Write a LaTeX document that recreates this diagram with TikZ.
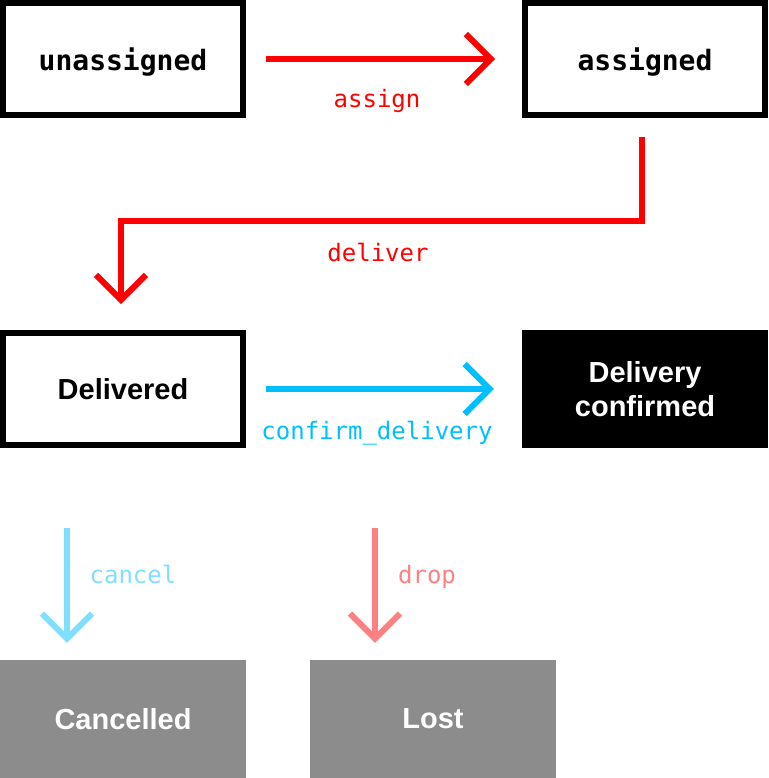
\documentclass[tikz,border=0pt]{standalone}
\usepackage{fontspec}
\usetikzlibrary{arrows.meta,calc}
\newfontfamily\boxsans{Liberation Sans}
\newfontfamily\monofont{DejaVu Sans Mono}
\definecolor{cred}{HTML}{FF0000}
\definecolor{ccyan}{HTML}{00BFFF}
\definecolor{clcyan}{HTML}{80DFFF}
\definecolor{csalmon}{HTML}{FF8080}
\definecolor{cgray}{HTML}{8C8C8C}
\tikzset{
  outlined/.style={draw=black, line width=6pt, fill=white, minimum width=240pt, minimum height=112pt, inner sep=0pt, text depth=0pt, font=\monofont\bfseries\fontsize{28}{34}\selectfont},
  outlinedsans/.style={draw=black, line width=6pt, fill=white, minimum width=240pt, minimum height=112pt, inner sep=0pt, font=\boxsans\bfseries\fontsize{29}{34}\selectfont},
  solidbox/.style={draw=none, minimum width=246pt, minimum height=118pt, inner sep=0pt, text=white, align=center, font=\boxsans\bfseries\fontsize{29}{34}\selectfont},
  trans/.style={line width=6pt, -{Straight Barb[length=25pt,width=50pt]}},
  lbl/.style={anchor=base, inner sep=0pt, font=\monofont\fontsize{24}{28}\selectfont}
}
\begin{document}
\begin{tikzpicture}[x=1pt,y=-1pt]
\useasboundingbox (0,0) rectangle (768,778);
\node[outlined] (unassigned) at (123,59) {unassigned};
\node[outlined] (assigned) at (645,59) {assigned};
\node[outlinedsans] (delivered) at (123,389) {Delivered};
\node[solidbox, fill=black] (confirmed) at (645,389) {Delivery\\confirmed};
\node[solidbox, fill=cgray] (cancelled) at (123,719) {Cancelled};
\node[solidbox, fill=cgray] (lost) at (433,719) {Lost};
% assign
\draw[trans, cred, shorten <=20pt, shorten >=27pt] (unassigned.east) -- (assigned.west);
\node[lbl, text=cred] (lassign) at (377,108) {assign};
% deliver
\coordinate (dstart) at (642,137);
\coordinate (dend) at (121,304);
\draw[trans, cred] (dstart) -- (642,221) -- (121,221) -- (dend);
\node[lbl, text=cred] (ldeliver) at (378,261) {deliver};
% confirm_delivery
\draw[trans, ccyan, shorten <=20pt, shorten >=28pt] (delivered.east) -- (confirmed.west);
\node[lbl, text=ccyan] (lconfirm) at (377,439) {confirm\_delivery};
% cancel
\coordinate (cstart) at (67,528);
\draw[trans, clcyan, shorten >=17pt] (cstart) -- (cstart |- cancelled.north);
\node[lbl, text=clcyan] (lcancel) at (133,583) {cancel};
% drop
\coordinate (pstart) at (375,528);
\draw[trans, csalmon, shorten >=17pt] (pstart) -- (pstart |- lost.north);
\node[lbl, text=csalmon] (ldrop) at (427,583) {drop};
\end{tikzpicture}
\end{document}
